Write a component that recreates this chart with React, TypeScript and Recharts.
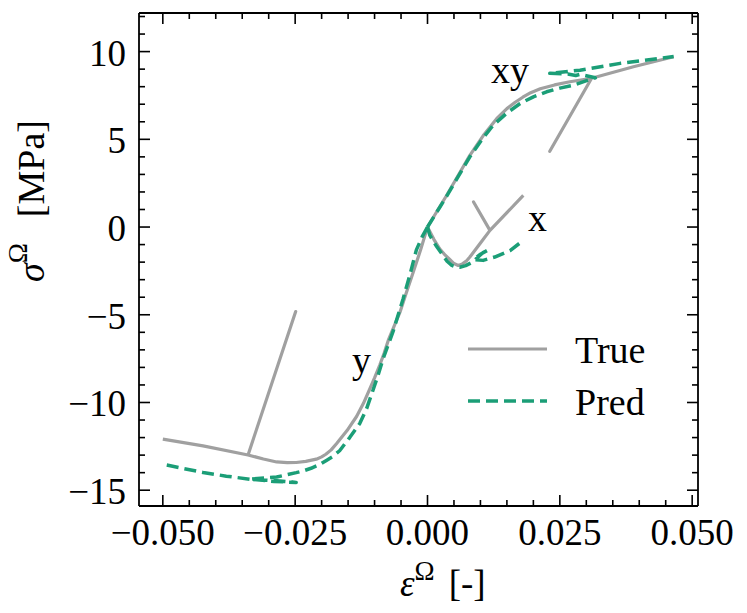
import React from 'react';
import { LineChart, Line, XAxis, YAxis, Legend } from 'recharts';

// [strain, stress] pairs
const trueXPath: [number, number][] = [
  [0, 0], [0.0012, -0.7], [0.0023, -1.24], [0.0034, -1.62], [0.0042, -1.85],
  [0.0050, -2.08], [0.0058, -2.19], [0.0066, -2.1], [0.0074, -1.92], [0.0080, -1.71],
  [0.0099, -0.95], [0.0118, -0.19], [0.0087, 1.43], [0.0118, -0.19], [0.0181, 1.8],
];
const predXPath: [number, number][] = [
  [0, 0], [0.00045, -0.48], [0.0016, -1.05], [0.0027, -1.52], [0.0037, -1.95],
  [0.0046, -2.19], [0.0054, -2.28], [0.0061, -2.29], [0.0072, -2.2],
  [0.0085, -2.0], [0.0105, -1.45], [0.0115, -1.3], [0.0100, -1.55], [0.0087, -1.85],
  [0.0105, -1.9], [0.0127, -1.71], [0.0156, -1.34], [0.0175, -0.9],
];
const trueYPath: [number, number][] = [
  [0, 0], [-0.0013, -1.3], [-0.0027, -2.57], [-0.0040, -3.75], [-0.0052, -4.85],
  [-0.0063, -5.65], [-0.0074, -6.45], [-0.0082, -7.2], [-0.0090, -7.85],
  [-0.0100, -8.6], [-0.0109, -9.23], [-0.0121, -10.05], [-0.0134, -10.8],
  [-0.0152, -11.6], [-0.0172, -12.35], [-0.0182, -12.7], [-0.0192, -12.95],
  [-0.0200, -13.1], [-0.0210, -13.23], [-0.0230, -13.36], [-0.0248, -13.42],
  [-0.0265, -13.43], [-0.0285, -13.39], [-0.0310, -13.22], [-0.0339, -12.99],
  [-0.0249, -4.82], [-0.0339, -12.99], [-0.0424, -12.47], [-0.050, -12.09],
];
const predYPath: [number, number][] = [
  [0, 0], [-0.0010, -0.55], [-0.0021, -1.3], [-0.0033, -2.7], [-0.0046, -4.09],
  [-0.0065, -5.95], [-0.0084, -7.52], [-0.0094, -8.5], [-0.0103, -9.3],
  [-0.0115, -10.35], [-0.0128, -11.2], [-0.0147, -12.0], [-0.0166, -12.75],
  [-0.0180, -13.1], [-0.0191, -13.3], [-0.0205, -13.55], [-0.0220, -13.75],
  [-0.0235, -13.9], [-0.0248, -14.0], [-0.0285, -14.25], [-0.0336, -14.37],
  [-0.0290, -14.5], [-0.0248, -14.56], [-0.0290, -14.45], [-0.0336, -14.37],
  [-0.0380, -14.2], [-0.0424, -13.99], [-0.050, -13.52],
];
const trueXYPath: [number, number][] = [
  [0, 0], [0.0036, 1.8], [0.0080, 4.09], [0.0105, 5.2], [0.0131, 6.19],
  [0.0150, 6.75], [0.0165, 7.1], [0.0180, 7.4], [0.0195, 7.66], [0.0213, 7.88],
  [0.0240, 8.1], [0.0269, 8.28], [0.0310, 8.48], [0.0231, 4.32], [0.0310, 8.48],
  [0.0389, 9.14], [0.0465, 9.71],
];
const predXYPath: [number, number][] = [
  [0, 0], [0.0036, 1.75], [0.0080, 4.0], [0.0103, 5.0], [0.0124, 5.8],
  [0.0150, 6.5], [0.0175, 7.04], [0.0200, 7.42], [0.0225, 7.71], [0.0250, 7.92],
  [0.0276, 8.09], [0.0317, 8.51], [0.0300, 8.62], [0.0288, 8.7], [0.0280, 8.64],
  [0.0265, 8.72], [0.0231, 8.76], [0.0288, 8.94], [0.0364, 9.33], [0.0465, 9.72],
];

const xTicks = [
  -0.05, -0.045, -0.04, -0.035, -0.03, -0.025, -0.02, -0.015, -0.01, -0.005, 0,
  0.005, 0.01, 0.015, 0.02, 0.025, 0.03, 0.035, 0.04, 0.045, 0.05,
];
const xMajor = [-0.05, -0.025, 0, 0.025, 0.05];
const xMajorLabels = ['\u22120.050', '\u22120.025', '0.000', '0.025', '0.050'];
const yTicks = [-15, -14, -13, -12, -11, -10, -9, -8, -7, -6, -5, -4, -3, -2, -1, 0, 1, 2, 3, 4, 5, 6, 7, 8, 9, 10, 11, 12];
const yMajor = [-15, -10, -5, 0, 5, 10];
const yMajorLabels = ['\u221215', '\u221210', '\u22125', '0', '5', '10'];

const pathAnnotations = [
  { text: 'xy', x: 491, y: 83 },
  { text: 'x', x: 528, y: 231 },
  { text: 'y', x: 352, y: 373 },
];
const legendItems = [
  { name: 'True', color: '#a0a0a0', dash: undefined as string | undefined },
  { name: 'Pred', color: '#1b9e77', dash: '12 6' },
];

const GRAY = '#a0a0a0';
const GREEN = '#1b9e77';
const FONT = "'Liberation Serif', 'DejaVu Serif', serif";
const FS = 37;

const toPts = (arr: [number, number][]) => arr.map(([x, y]) => ({ x, y }));

const majorIndex = (v: number, majors: number[]) =>
  majors.findIndex((m) => Math.abs(m - v) < 1e-9);

const BottomTick = (props: any) => {
  const { x, y, payload } = props;
  const i = majorIndex(payload.value, xMajor);
  const len = i >= 0 ? 11 : 6;
  return (
    <g>
      <line x1={x} x2={x} y1={y} y2={y - len} stroke="#000" strokeWidth={1.6} />
      {i >= 0 && (
        <text x={x} y={y + 39} textAnchor="middle" fontFamily={FONT} fontSize={FS} fill="#000">
          {xMajorLabels[i]}
        </text>
      )}
    </g>
  );
};
const TopTick = (props: any) => {
  const { x, y, payload } = props;
  const i = majorIndex(payload.value, xMajor);
  const len = i >= 0 ? 11 : 6;
  return <line x1={x} x2={x} y1={y} y2={y + len} stroke="#000" strokeWidth={1.6} />;
};
const LeftTick = (props: any) => {
  const { x, y, payload } = props;
  const i = majorIndex(payload.value, yMajor);
  const len = i >= 0 ? 11 : 6;
  return (
    <g>
      <line x1={x} x2={x + len} y1={y} y2={y} stroke="#000" strokeWidth={1.6} />
      {i >= 0 && (
        <text x={x - 13} y={y + 14} textAnchor="end" fontFamily={FONT} fontSize={FS} fill="#000">
          {yMajorLabels[i]}
        </text>
      )}
    </g>
  );
};
const RightTick = (props: any) => {
  const { x, y, payload } = props;
  const i = majorIndex(payload.value, yMajor);
  const len = i >= 0 ? 11 : 6;
  return <line x1={x} x2={x - len} y1={y} y2={y} stroke="#000" strokeWidth={1.6} />;
};

const LegendBox = () => (
  <svg width={230} height={110} style={{ overflow: 'visible' }}>
    {legendItems.map((it, i) => (
      <g key={it.name}>
        <line x1={0} x2={79} y1={21 + i * 52} y2={21 + i * 52} stroke={it.color}
          strokeWidth={it.dash ? 3.5 : 3.2} strokeDasharray={it.dash} />
        <text x={107} y={35 + i * 52} fontFamily={FONT} fontSize={38} fill="#000">{it.name}</text>
      </g>
    ))}
  </svg>
);

export default function App() {
  const axisLine = { stroke: '#000', strokeWidth: 1.8 };
  const lineCommon = { dot: false, activeDot: false, isAnimationActive: false, strokeLinejoin: 'round' as const, type: 'linear' as const, xAxisId: 'b', yAxisId: 'l', dataKey: 'y' };
  return (
    <div style={{ position: 'absolute', left: 0, top: 0, width: 747, height: 613, background: '#fff' }}>
      <LineChart width={747} height={613} margin={{ top: 12, right: 48, bottom: 106, left: 138 }}>
        <XAxis xAxisId="b" type="number" dataKey="x" domain={[-0.0545, 0.0511]} allowDataOverflow
          ticks={xTicks} interval={0} tickSize={0} tickMargin={0} height={1}
          axisLine={axisLine} tickLine={false} tick={<BottomTick />} />
        <XAxis xAxisId="t" orientation="top" type="number" dataKey="x" domain={[-0.0545, 0.0511]} allowDataOverflow
          ticks={xTicks} interval={0} tickSize={0} tickMargin={0} height={1}
          axisLine={axisLine} tickLine={false} tick={<TopTick />} />
        <YAxis yAxisId="l" type="number" dataKey="y" domain={[-15.9, 12.2]} allowDataOverflow
          ticks={yTicks} interval={0} tickSize={0} tickMargin={0} width={1}
          axisLine={axisLine} tickLine={false} tick={<LeftTick />} />
        <YAxis yAxisId="r" orientation="right" type="number" dataKey="y" domain={[-15.9, 12.2]} allowDataOverflow
          ticks={yTicks} interval={0} tickSize={0} tickMargin={0} width={1}
          axisLine={axisLine} tickLine={false} tick={<RightTick />} />
        <Legend layout="vertical" align="center" verticalAlign="middle" content={() => <LegendBox />}
          wrapperStyle={{ left: 468, top: 328, width: 230, height: 110 }} />
        <Line {...lineCommon} data={toPts(trueXPath)} name="True" stroke={GRAY} strokeWidth={3.2} />
        <Line {...lineCommon} data={toPts(trueYPath)} name="True y" legendType="none" stroke={GRAY} strokeWidth={3.2} />
        <Line {...lineCommon} data={toPts(trueXYPath)} name="True xy" legendType="none" stroke={GRAY} strokeWidth={3.2} />
        <Line {...lineCommon} data={toPts(predXPath)} name="Pred" stroke={GREEN} strokeWidth={3.5} strokeDasharray="12 6" />
        <Line {...lineCommon} data={toPts(predYPath)} name="Pred y" legendType="none" stroke={GREEN} strokeWidth={3.5} strokeDasharray="12 6" />
        <Line {...lineCommon} data={toPts(predXYPath)} name="Pred xy" legendType="none" stroke={GREEN} strokeWidth={3.5} strokeDasharray="12 6" />
      </LineChart>
      <svg width={747} height={613} style={{ position: 'absolute', left: 0, top: 0, pointerEvents: 'none' }}>
        {pathAnnotations.map((a) => (
          <text key={a.text} x={a.x} y={a.y} fontFamily={FONT} fontSize={38} fill="#000">{a.text}</text>
        ))}
        <text x={400} y={596} fontFamily={FONT} fontSize={37} fill="#000">
          <tspan fontStyle="italic">ε</tspan>
          <tspan dy={-16} fontSize={27}>Ω</tspan>
          <tspan dy={16} dx={14}>[-]</tspan>
        </text>
        <text transform="translate(44,282) rotate(-90)" fontFamily={FONT} fontSize={38} fill="#000">
          <tspan fontStyle="italic">σ</tspan>
          <tspan dy={-17} fontSize={27}>Ω</tspan>
          <tspan dy={17} dx={26}>[MPa]</tspan>
        </text>
      </svg>
    </div>
  );
}
